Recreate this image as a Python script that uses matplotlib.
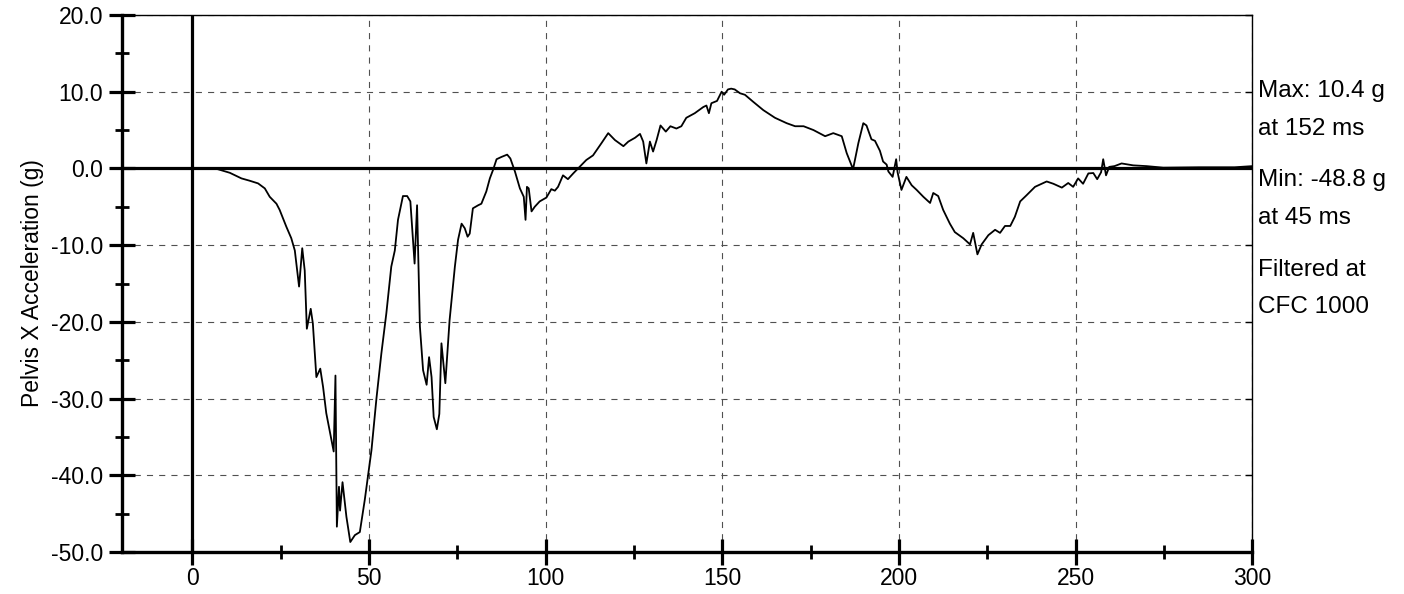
import matplotlib
matplotlib.use("Agg")
import matplotlib.pyplot as plt
from matplotlib.ticker import MultipleLocator, FormatStrFormatter

plt.rcParams['font.family'] = ['Liberation Sans', 'DejaVu Sans']
plt.rcParams['axes.unicode_minus'] = False

time_ms = [0, 5, 7.2, 10.6, 13.9, 16.2, 18.6, 20.5, 21.9, 23.8, 24.7, 26.6, 28.0, 29.0, 30.2, 31.1,
           31.8, 32.4, 33.5, 34.1, 35.1, 36.2, 37.0, 37.9, 38.9, 40.0, 40.5, 40.9, 41.5, 41.8, 42.5,
           43.6, 44.7, 46.0, 47.4, 48.8, 50.7, 52.1, 53.5, 54.9, 56.3, 57.3, 58.2, 59.6, 60.8, 61.7,
           62.9, 63.6, 64.4, 65.3, 66.3, 67.0, 67.7, 68.3, 69.2, 69.9, 70.5, 71.6, 72.8, 74.3, 75.2,
           76.2, 77.1, 77.9, 78.5, 79.4, 80.9, 81.8, 83.2, 84.2, 85.1, 86.1, 87.5, 89.1, 90.0, 91.3,
           92.7, 93.8, 94.3, 94.7, 95.2, 96.0, 96.9, 98.3, 100.2, 101.6, 102.6, 103.5, 104.9, 106.3,
           107.8, 109.6, 111.5, 113.4, 115.8, 117.7, 119.6, 122.0, 123.4, 125.3, 126.7, 127.6, 128.5,
           129.5, 130.4, 131.4, 132.5, 134.0, 135.3, 137.0, 138.4, 139.8, 142.2, 144.6, 145.5, 146.2,
           146.9, 148.5, 149.8, 150.5, 151.6, 152.5, 153.5, 155.0, 156.4, 158.7, 161.6, 164.9, 168.2,
           170.6, 173.0, 175.8, 179.1, 181.4, 183.8, 185.2, 187.0, 188.5, 189.9, 190.8, 192.2, 193.2,
           194.6, 195.5, 196.5, 197.0, 198.2, 199.2, 199.6, 200.7, 202.1, 203.6, 205.0, 206.9, 208.8,
           209.7, 211.1, 212.5, 214.4, 215.8, 218.2, 220.1, 221.0, 222.2, 223.4, 225.3, 227.2, 228.6,
           230.0, 231.5, 232.8, 234.3, 236.1, 238.5, 241.8, 243.7, 246.1, 247.9, 249.3, 250.7, 252.1,
           253.6, 255.0, 256.1, 257.2, 257.8, 258.6, 259.5, 261.0, 263.0, 266.3, 270.1, 274.8, 285,
           295, 300]
accel_g = [0, 0.05, -0.1, -0.57, -1.3, -1.6, -1.95, -2.6, -3.7, -4.6, -5.4, -7.6, -9.1, -10.7, -15.4, -10.4,
           -13.3, -20.9, -18.3, -20.2, -27.2, -26.1, -28.5, -31.9, -34.3, -36.9, -27.0, -46.7, -41.5, -44.6, -40.9,
           -45.4, -48.7, -47.8, -47.4, -43.2, -36.7, -30.0, -24.1, -18.9, -12.8, -10.7, -6.7, -3.6, -3.6, -4.3,
           -12.4, -4.8, -20.6, -26.3, -28.2, -24.6, -27.2, -32.4, -34.0, -32.0, -22.8, -28.0, -19.8, -12.8, -9.3,
           -7.2, -7.8, -8.9, -8.5, -5.2, -4.8, -4.6, -3.0, -1.3, -0.2, 1.2, 1.5, 1.8, 1.3, -0.4,
           -2.6, -3.7, -6.7, -2.4, -2.6, -5.6, -5.0, -4.3, -3.8, -2.7, -2.9, -2.4, -0.9, -1.4,
           -0.65, 0.2, 1.1, 1.7, 3.3, 4.6, 3.7, 2.9, 3.5, 4.0, 4.5, 3.5, 0.65,
           3.5, 2.2, 3.7, 5.6, 4.8, 5.5, 5.2, 5.5, 6.6, 7.2, 8.0, 8.2, 7.2,
           8.5, 8.8, 10.0, 9.6, 10.3, 10.4, 10.3, 9.8, 9.6, 8.7, 7.6, 6.6, 5.9,
           5.5, 5.5, 5.0, 4.2, 4.6, 4.2, 2.0, -0.1, 3.3, 5.9, 5.6, 3.8, 3.6,
           2.3, 0.9, 0.5, -0.4, -1.1, 1.2, -0.5, -2.8, -1.1, -2.2, -2.8, -3.7, -4.5,
           -3.2, -3.6, -5.4, -7.2, -8.3, -9.1, -9.9, -8.4, -11.2, -9.9, -8.7, -8.0, -8.4,
           -7.5, -7.5, -6.3, -4.3, -3.5, -2.4, -1.7, -2.0, -2.5, -1.9, -2.4, -1.3, -2.0,
           -0.65, -0.6, -1.4, -0.5, 1.2, -0.9, 0.2, 0.3, 0.65, 0.4, 0.3, 0.1, 0.15,
           0.15, 0.3]

x_limits = (-20, 300)
y_limits = (-50, 20)
y_label = "Pelvis X Acceleration (g)"
side_notes = ["Max: 10.4 g", "at 152 ms", "Min: -48.8 g", "at 45 ms", "Filtered at", "CFC 1000"]
side_note_y_px = [91, 129, 180, 218, 270, 307]

W, H = 1404, 594
fig = plt.figure(figsize=(W / 100, H / 100), dpi=100)
L, R, T, B = 121.7, 1252.3, 15, 552
ax = fig.add_axes([L / W, 1 - B / H, (R - L) / W, (B - T) / H])

ax.set_xlim(*x_limits)
ax.set_ylim(*y_limits)

ax.xaxis.set_major_locator(MultipleLocator(50))
ax.xaxis.set_minor_locator(MultipleLocator(25))
ax.yaxis.set_major_locator(MultipleLocator(10))
ax.yaxis.set_minor_locator(MultipleLocator(5))
ax.yaxis.set_major_formatter(FormatStrFormatter('%.1f'))

ax.grid(True, which='major', color='#505050', linewidth=0.8, linestyle=(0, (5.5, 5.5)))
ax.set_axisbelow(True)

ax.axhline(0, color='black', linewidth=2.3, zorder=3)
ax.axvline(0, color='black', linewidth=2.3, zorder=3)

ax.plot(time_ms, accel_g, color='black', linewidth=1.3, zorder=4)

for s in ['left', 'bottom']:
    ax.spines[s].set_linewidth(2.4)
for s in ['top', 'right']:
    ax.spines[s].set_linewidth(1.0)

ax.tick_params(axis='both', which='major', direction='inout', length=19, width=2.3,
               labelsize=16.5, pad=4, colors='black')
ax.tick_params(axis='both', which='minor', direction='inout', length=10, width=2.0)
ax.tick_params(axis='x', which='major', pad=1)

# small inward ticks on right spine
ax2 = ax.twinx()
ax2.set_ylim(*y_limits)
ax2.yaxis.set_major_locator(MultipleLocator(10))
ax2.tick_params(axis='y', which='major', direction='in', length=5, width=1.0, labelright=False)
for s in ax2.spines.values():
    s.set_visible(False)

ax.set_ylabel(y_label, fontsize=16.5)
ax.yaxis.set_label_coords(-0.069, 0.5)

for txt, py in zip(side_notes, side_note_y_px):
    fig.text(1258 / W, 1 - py / H, txt, fontsize=17.5, va='center', ha='left')

fig.savefig("out.png", dpi=100)
